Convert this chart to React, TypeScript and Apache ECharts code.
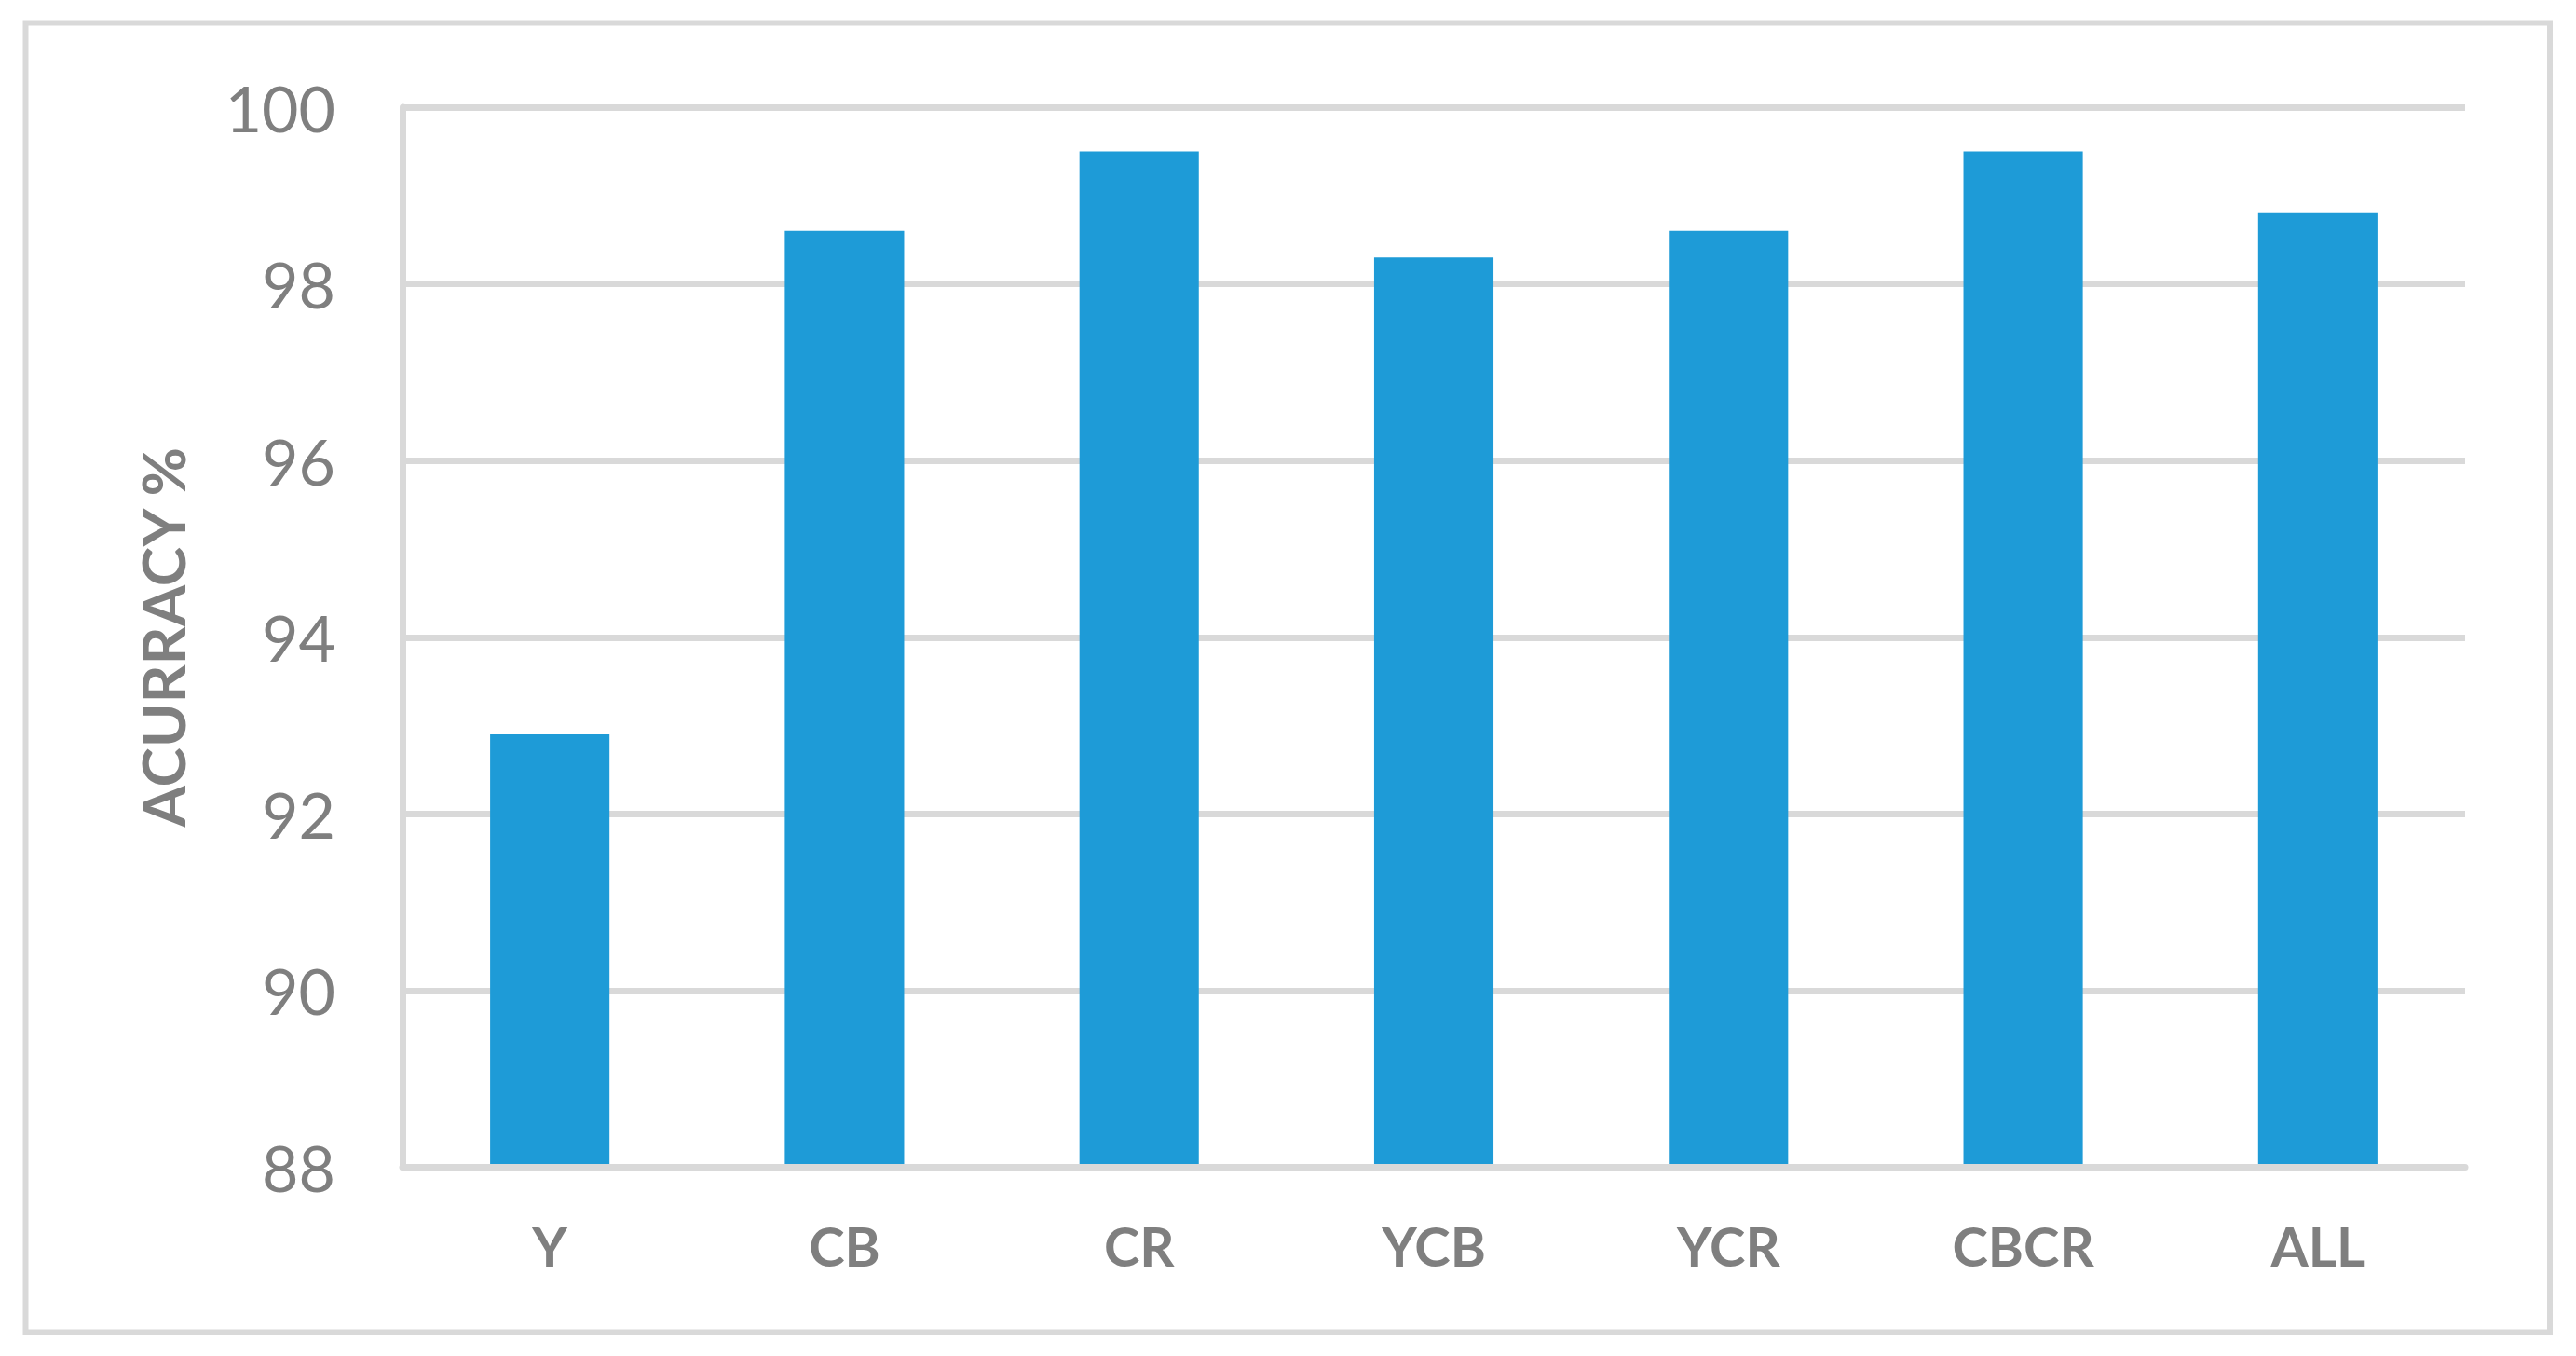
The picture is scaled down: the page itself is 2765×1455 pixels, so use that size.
import React, { useEffect, useRef } from "react";
import * as echarts from "echarts";

const categories = ["Y", "CB", "CR", "YCB", "YCR", "CBCR", "ALL"];
const accuracy = [92.9, 98.6, 99.5, 98.3, 98.6, 99.5, 98.8];
const yMin = 88;
const yMax = 100;
const yStep = 2;
const yAxisTitle = "ACURRACY %";

export default function App() {
  const ref = useRef<HTMLDivElement>(null);

  useEffect(() => {
    document.body.style.margin = "0";
    document.body.style.overflow = "hidden";
    if (!ref.current) return;
    const chart = echarts.init(ref.current, null, { renderer: "svg" });
    const grey = "#d9d9d9";
    const textGrey = "#7f7f7f";
    chart.setOption({
      animation: false,
      backgroundColor: "#ffffff",
      graphic: [
        {
          type: "rect",
          shape: { x: 27.5, y: 24.5, width: 2709.5, height: 1405 },
          style: { fill: "none", stroke: grey, lineWidth: 6 },
          z: 0,
        },
      ],
      grid: { left: 432, right: 119, top: 115, bottom: 1455 - 1252.5 },
      xAxis: {
        type: "category",
        data: categories,
        z: 3,
        axisLine: { show: true, lineStyle: { color: grey, width: 7 } },
        axisTick: { show: false },
        axisLabel: {
          color: textGrey,
          fontFamily: "Lato",
          fontWeight: "bold",
          fontSize: 58,
          margin: 55,
        },
      },
      yAxis: {
        type: "value",
        min: yMin,
        max: yMax,
        interval: yStep,
        name: yAxisTitle,
        nameLocation: "middle",
        nameGap: 226,
        nameTextStyle: {
          color: textGrey,
          fontFamily: "Lato",
          fontWeight: "bold",
          fontSize: 64,
        },
        axisLine: { show: true, lineStyle: { color: grey, width: 7 } },
        axisTick: { show: false },
        splitLine: { show: true, lineStyle: { color: grey, width: 7 } },
        axisLabel: {
          color: textGrey,
          fontFamily: "Lato",
          fontSize: 68,
          margin: 72,
        },
      },
      series: [
        {
          type: "bar",
          data: accuracy,
          barCategoryGap: "59.5%",
          itemStyle: { color: "#1e9bd7" },
        },
      ],
    });
    return () => chart.dispose();
  }, []);

  return <div ref={ref} style={{ width: 2765, height: 1455 }} />;
}
